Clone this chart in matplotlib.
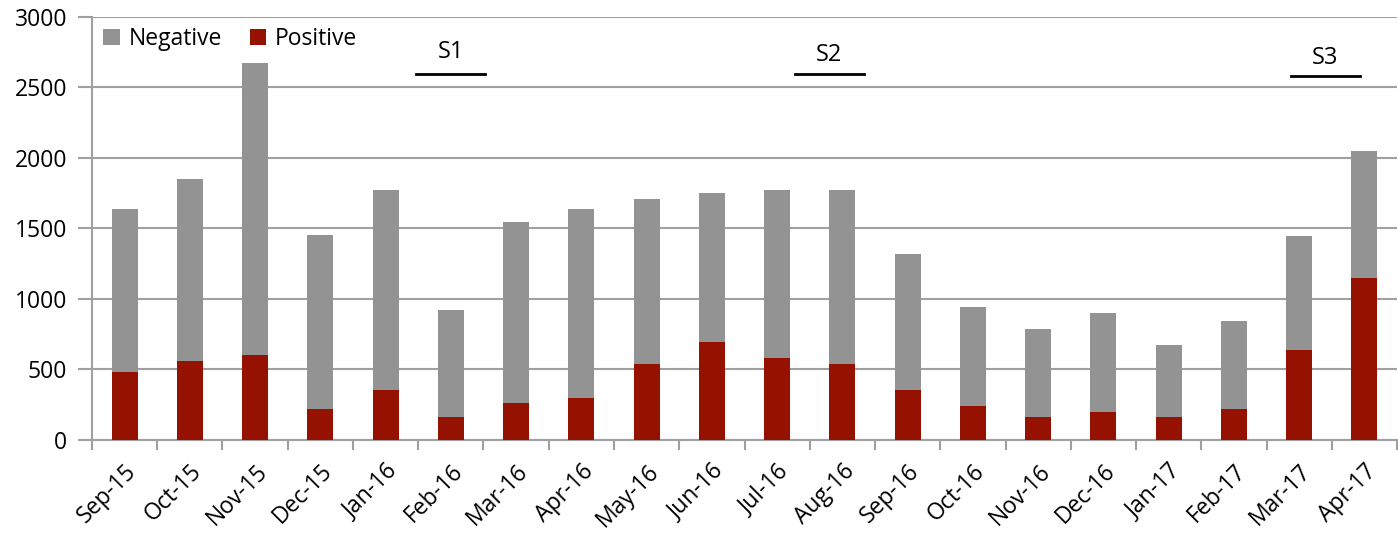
import matplotlib
matplotlib.use("Agg")
import matplotlib.pyplot as plt
import numpy as np

months = ["Sep-15", "Oct-15", "Nov-15", "Dec-15", "Jan-16", "Feb-16", "Mar-16",
          "Apr-16", "May-16", "Jun-16", "Jul-16", "Aug-16", "Sep-16", "Oct-16",
          "Nov-16", "Dec-16", "Jan-17", "Feb-17", "Mar-17", "Apr-17"]
totals = [1640, 1850, 2675, 1450, 1770, 920, 1545, 1635, 1710, 1750, 1770, 1770,
          1315, 940, 785, 900, 675, 845, 1445, 2050]
positive = [485, 560, 600, 220, 355, 165, 260, 295, 540, 695, 580, 540,
            355, 240, 165, 200, 165, 220, 635, 1145]
negative = [t - p for t, p in zip(totals, positive)]

# study period annotations: (label, x-center in category units, text y, line y)
periods = ["S1", "S2", "S3"]
period_centers = [5.0, 10.8, 18.4]
period_text_y = [2750, 2730, 2705]
period_line_y = [2595, 2595, 2580]

plt.rcParams['font.family'] = ['Open Sans', 'DejaVu Sans']

fig = plt.figure(figsize=(13.98, 5.33), dpi=100)
ax = fig.add_axes([0.0658, 0.1745, 0.9335, 0.7942])

x = np.arange(len(months))
red = "#951200"
gray = "#939393"
ax.bar(x, positive, width=0.4, color=red, label="Positive", zorder=3)
ax.bar(x, negative, width=0.4, bottom=positive, color=gray, label="Negative", zorder=3)

ax.set_xlim(-0.5, len(months) - 0.5)
ax.set_ylim(0, 3000)
ax.set_yticks(np.arange(0, 3001, 500))
ax.tick_params(axis='y', labelsize=16.5, length=10, width=1.5, color="#A0A0A0", pad=8)
ax.yaxis.grid(True, color="#A0A0A0", linewidth=1.5, zorder=0)
ax.set_axisbelow(True)

ax.set_xticks(x)
ax.set_xticklabels(months, rotation=45, ha='right', rotation_mode='anchor', fontsize=16.5)
ax.tick_params(axis='x', length=0, pad=14)
ax.set_xticks(np.arange(-0.5, len(months), 1.0), minor=True)
ax.tick_params(axis='x', which='minor', length=7, width=1.5, color="#A0A0A0")

for s in ["top", "right"]:
    ax.spines[s].set_visible(False)
for s in ["left", "bottom"]:
    ax.spines[s].set_color("#A0A0A0")
    ax.spines[s].set_linewidth(1.5)

for lab, cx, ty, ly in zip(periods, period_centers, period_text_y, period_line_y):
    ax.text(cx, ty, lab, ha='center', va='center', fontsize=17, zorder=5)
    ax.plot([cx - 0.53, cx + 0.53], [ly, ly], color='black', linewidth=2, zorder=5)

handles, labels = ax.get_legend_handles_labels()
ax.legend(handles[::-1], labels[::-1], loc='upper left', ncol=2, frameon=False,
          fontsize=16.5, handlelength=0.7, handleheight=0.7, handletextpad=0.4,
          columnspacing=1.2, bbox_to_anchor=(-0.007, 1.025))

fig.savefig("out.png", dpi=100)
